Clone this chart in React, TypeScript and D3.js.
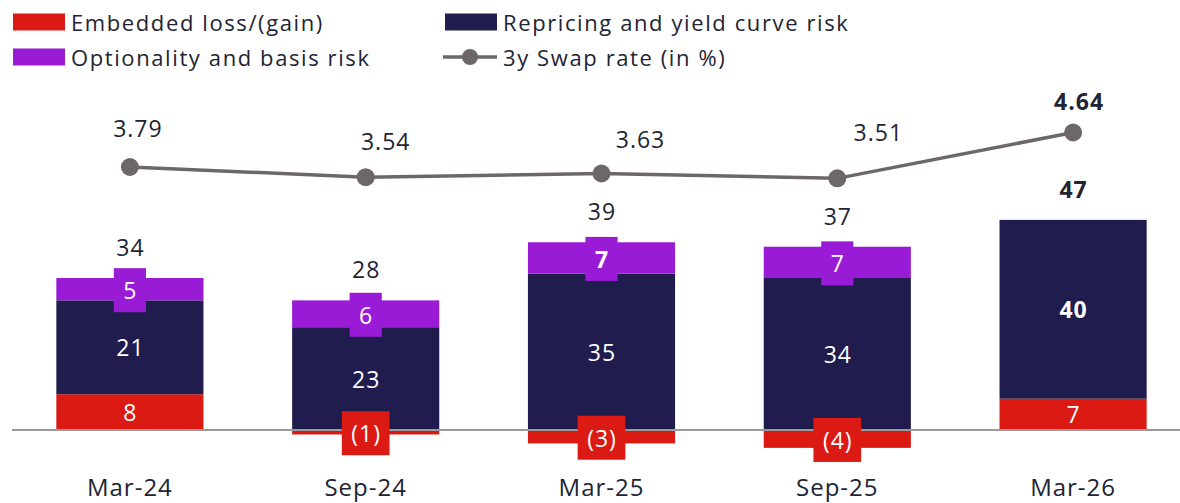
import React, { useEffect, useRef } from 'react';
import * as d3 from 'd3';

const periods = ['Mar-24', 'Sep-24', 'Mar-25', 'Sep-25', 'Mar-26'];
const embedded = [8, -1, -3, -4, 7];
const repricing = [21, 23, 35, 34, 40];
const optionality = [5, 6, 7, 7, 0];
const totals = [34, 28, 39, 37, 47];
const swapRate = [3.79, 3.54, 3.63, 3.51, 4.64];

// which labels are drawn in bold
const boldSegments: Record<string, boolean[]> = {
  embedded: [false, false, false, false, false],
  repricing: [false, false, false, false, true],
  optionality: [false, false, true, false, false],
};
const boldTop = [false, false, false, false, true];

// manual label nudges for the swap-rate labels (dx, dy from the point)
const swapLabelNudge = [[8, -30], [20, -27], [39, -25], [41, -37], [6, -22]];

const COLORS: Record<string, string> = {
  embedded: '#db1a14',
  repricing: '#201c4e',
  optionality: '#9a1bd6',
};
const LINE = '#6e6769';
const TEXT = '#222433';
const FONT = '"Open Sans", "Noto Sans", sans-serif';
const LS = 1;

const W = 1180;
const H = 503;

const App: React.FC = () => {
  const svgRef = useRef<SVGSVGElement>(null);

  useEffect(() => {
    if (!svgRef.current) return;
    const svg = d3.select(svgRef.current);
    svg.selectAll('*').remove();
    svg.attr('font-family', FONT).attr('letter-spacing', LS);

    const keys = ['embedded', 'repricing', 'optionality'];
    const rows = periods.map((p, i) => ({
      period: p,
      embedded: embedded[i],
      repricing: repricing[i],
      optionality: optionality[i],
    }));

    const x = d3.scaleBand<string>()
      .domain(periods)
      .range([12, 1191])
      .paddingInner(0.376)
      .paddingOuter(0.188);

    const y = d3.scaleLinear()
      .domain([-5, 50])
      .range([430 + 5 * 4.47, 430 - 50 * 4.47]);

    const yRate = d3.scaleLinear()
      .domain([3, 5])
      .range([167 + 0.79 * 40.6, 167 - 1.21 * 40.6]);

    const series = d3.stack<any>()
      .keys(keys)
      .offset(d3.stackOffsetDiverging)(rows);

    // bars
    const gBars = svg.append('g');
    series.forEach(s => {
      gBars.selectAll(null)
        .data(s.filter(d => d[1] !== d[0]))
        .enter()
        .append('rect')
        .attr('x', d => x(d.data.period)!)
        .attr('width', x.bandwidth())
        .attr('y', d => y(Math.max(d[0], d[1])))
        .attr('height', d => Math.abs(y(d[0]) - y(d[1])))
        .attr('fill', COLORS[s.key]);
    });

    // baseline
    svg.append('line')
      .attr('x1', 12).attr('x2', W)
      .attr('y1', y(0)).attr('y2', y(0))
      .attr('stroke', '#9a9a9a')
      .attr('stroke-width', 2);

    // segment labels
    const gLab = svg.append('g').attr('font-size', 23);
    series.forEach(s => {
      s.forEach((d, i) => {
        const v = (rows[i] as any)[s.key] as number;
        if (v === 0) return;
        const cx = x(d.data.period)! + x.bandwidth() / 2;
        const cy = (y(d[0]) + y(d[1])) / 2;
        const boxed = s.key === 'optionality' || v < 0;
        const txt = v < 0 ? `(${Math.abs(v)})` : `${v}`;
        const g = gLab.append('g');
        const t = g.append('text')
          .attr('x', cx + LS / 2)
          .attr('y', cy + (boxed ? 1 : 0))
          .attr('text-anchor', 'middle')
          .attr('dominant-baseline', 'central')
          .attr('fill', '#fff')
          .attr('font-weight', boldSegments[s.key][i] ? 700 : 400)
          .text(txt);
        if (boxed) {
          const tw = (t.node() as SVGTextElement).getComputedTextLength();
          g.insert('rect', 'text')
            .attr('x', cx - tw / 2 - 9)
            .attr('width', tw + 18)
            .attr('y', cy + 1 - 22)
            .attr('height', 44)
            .attr('fill', COLORS[s.key]);
        }
      });
    });

    // totals above bars
    const tops = rows.map((_, i) => d3.max(series, s => s[i][1]) as number);
    svg.append('g')
      .selectAll('text')
      .data(totals)
      .enter()
      .append('text')
      .attr('x', (_, i) => x(periods[i])! + x.bandwidth() / 2 + LS / 2)
      .attr('y', (_, i) => y(tops[i]) - 22)
      .attr('text-anchor', 'middle')
      .attr('font-size', 23)
      .attr('font-weight', (_, i) => (boldTop[i] ? 700 : 400))
      .attr('fill', TEXT)
      .text(d => d);

    // swap rate line
    const cxOf = (i: number) => x(periods[i])! + x.bandwidth() / 2;
    const line = d3.line<number>()
      .x((_, i) => cxOf(i))
      .y(d => yRate(d));

    svg.append('path')
      .datum(swapRate)
      .attr('fill', 'none')
      .attr('stroke', LINE)
      .attr('stroke-width', 3.5)
      .attr('d', line);

    svg.append('g')
      .selectAll('circle')
      .data(swapRate)
      .enter()
      .append('circle')
      .attr('cx', (_, i) => cxOf(i))
      .attr('cy', d => yRate(d))
      .attr('r', 9)
      .attr('fill', LINE);

    svg.append('g')
      .selectAll('text')
      .data(swapRate)
      .enter()
      .append('text')
      .attr('x', (_, i) => cxOf(i) + swapLabelNudge[i][0])
      .attr('y', (d, i) => yRate(d) + swapLabelNudge[i][1])
      .attr('text-anchor', 'middle')
      .attr('font-size', 23)
      .attr('font-weight', (_, i) => (boldTop[i] ? 700 : 400))
      .attr('fill', TEXT)
      .text(d => d.toFixed(2));

    // x axis labels
    svg.append('g')
      .selectAll('text')
      .data(periods)
      .enter()
      .append('text')
      .attr('x', d => x(d)! + x.bandwidth() / 2)
      .attr('y', 496)
      .attr('text-anchor', 'middle')
      .attr('font-size', 24)
      .attr('fill', TEXT)
      .text(d => d);

    // legend
    const legend = svg.append('g')
      .attr('font-size', 22)
      .attr('letter-spacing', 1.6)
      .attr('fill', TEXT);
    const items = [
      { label: 'Embedded loss/(gain)', color: COLORS.embedded, x: 13, y: 22, type: 'rect' },
      { label: 'Optionality and basis risk', color: COLORS.optionality, x: 13, y: 57, type: 'rect' },
      { label: 'Repricing and yield curve risk', color: COLORS.repricing, x: 445, y: 22, type: 'rect' },
      { label: '3y Swap rate (in %)', color: LINE, x: 445, y: 57, type: 'line' },
    ];
    items.forEach(it => {
      if (it.type === 'rect') {
        legend.append('rect')
          .attr('x', it.x).attr('y', it.y - 8.5)
          .attr('width', 52).attr('height', 17)
          .attr('fill', it.color);
      } else {
        legend.append('line')
          .attr('x1', it.x - 2).attr('x2', it.x + 52)
          .attr('y1', it.y).attr('y2', it.y)
          .attr('stroke', it.color).attr('stroke-width', 3.5);
        legend.append('circle')
          .attr('cx', it.x + 25).attr('cy', it.y).attr('r', 8)
          .attr('fill', it.color);
      }
      legend.append('text')
        .attr('x', it.x + 58)
        .attr('y', it.y)
        .attr('dominant-baseline', 'central')
        .text(it.label);
    });
  }, []);

  return (
    <svg
      ref={svgRef}
      width={W}
      height={H}
      style={{ position: 'absolute', left: 0, top: 0, background: '#fff' }}
    />
  );
};

export default App;
